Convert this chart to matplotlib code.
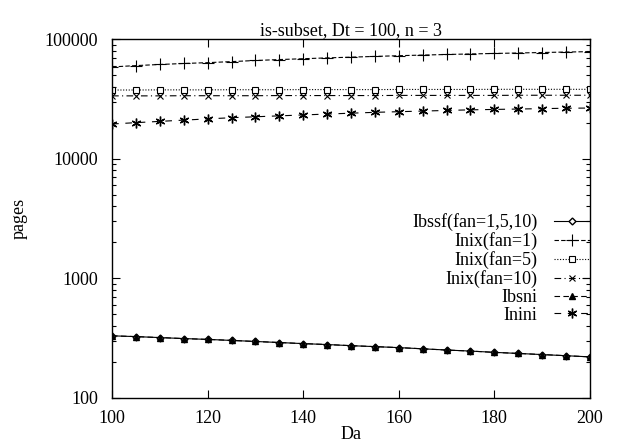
import matplotlib
matplotlib.use("Agg")
import matplotlib.pyplot as plt
from matplotlib.ticker import LogLocator, NullFormatter, FixedLocator

plt.rcParams["font.family"] = ["Liberation Serif", "DejaVu Serif"]
plt.rcParams["font.size"] = 13

da = [100, 105, 110, 115, 120, 125, 130, 135, 140, 145, 150,
      155, 160, 165, 170, 175, 180, 185, 190, 195, 200]

ibssf = [330, 325, 319, 313, 308, 302, 296, 290, 284, 279, 273,
         268, 263, 257, 251, 246, 240, 235, 230, 225, 220]
inix_fan1 = [58500, 60000, 61300, 62500, 63500, 64800, 66200, 67400, 68500, 69600, 70600,
             71600, 72600, 73500, 74300, 75100, 75800, 76500, 77200, 77900, 78500]
inix_fan5 = [37500, 37500, 37600, 37600, 37600, 37700, 37700, 37700, 37800, 37800, 37800,
             37800, 37900, 37900, 37900, 37900, 38000, 38000, 38000, 38000, 38000]
inix_fan10 = [33500, 33500, 33500, 33600, 33600, 33600, 33600, 33700, 33700, 33700, 33700,
              33700, 33800, 33800, 33800, 33800, 33800, 33900, 33900, 33900, 33900]
ibsni = list(ibssf)
inini = [19500, 20000, 20500, 21000, 21500, 22000, 22400, 22800, 23200, 23600, 24000,
         24400, 24700, 25000, 25300, 25600, 25800, 26000, 26200, 26400, 26500]

fig = plt.figure(figsize=(6.19, 4.44), dpi=100)
ax = fig.add_axes([0.181, 0.104, 0.772, 0.808])

lw = 0.8
ax.plot(da, ibssf, color="black", lw=lw, ls="-", marker="D", ms=3.5,
        mfc="white", mec="black", label="Ibssf(fan=1,5,10)")
ax.plot(da, inix_fan1, color="black", lw=lw, ls=(0, (4, 2)), marker="+", ms=8,
        mew=0.8, label="Inix(fan=1)")
ax.plot(da, inix_fan5, color="black", lw=lw, ls=(0, (1, 1.5)), marker="s", ms=5,
        mfc="white", mec="black", mew=0.8, label="Inix(fan=5)")
ax.plot(da, inix_fan10, color="black", lw=lw, ls=(0, (6, 3, 1, 3)), marker="x", ms=5,
        mew=0.8, label="Inix(fan=10)")
ax.plot(da, ibsni, color="black", lw=lw, ls=(0, (5, 3)), marker="^", ms=4.5,
        mfc="black", label="Ibsni")
ax.plot(da, inini, color="black", lw=lw, ls=(0, (6, 6)), marker=(6, 2, 0), ms=7,
        mew=1.0, label="Inini")

ax.set_yscale("log")
ax.set_xlim(100, 200)
ax.set_ylim(100, 100000)
ax.xaxis.set_major_locator(FixedLocator([100, 120, 140, 160, 180, 200]))
ax.yaxis.set_major_locator(FixedLocator([100, 1000, 10000, 100000]))
ax.set_yticklabels(["100", "1000", "10000", "100000"])
ax.yaxis.set_minor_locator(LogLocator(base=10, subs=range(2, 10)))
ax.yaxis.set_minor_formatter(NullFormatter())
ax.tick_params(which="both", direction="in", top=True, right=True, labelsize=13)
ax.tick_params(which="major", length=6, width=0.8)
ax.tick_params(axis="y", which="major", pad=10)
ax.tick_params(axis="x", which="major", pad=9)
ax.tick_params(which="minor", length=3, width=0.8)
for s in ax.spines.values():
    s.set_linewidth(1.0)

ax.set_title("is-subset, Dt = 100, n = 3", fontsize=13, pad=2)
ax.set_xlabel("Da", fontsize=13, labelpad=-1)
ax.set_ylabel("pages", fontsize=13, labelpad=12)

ax.legend(loc="center right", bbox_to_anchor=(1.0, 0.36), markerfirst=False,
          frameon=False, numpoints=1, handlelength=2.0, handletextpad=0.9,
          labelspacing=0.05, fontsize=13, borderaxespad=0.0, borderpad=0.0)

fig.savefig("out.png", dpi=100)
